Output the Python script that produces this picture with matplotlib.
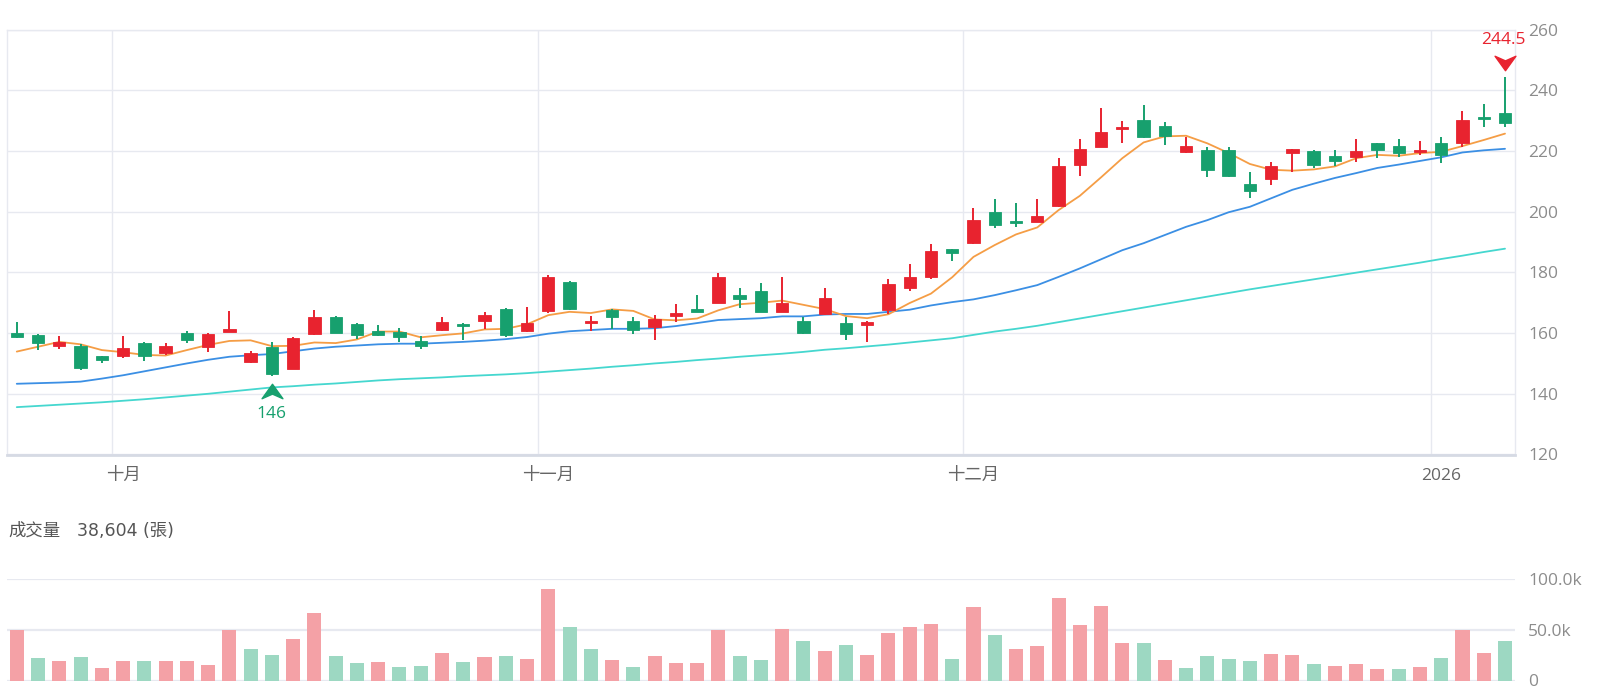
import matplotlib
matplotlib.use("Agg")
import matplotlib.pyplot as plt
import numpy as np
from matplotlib.path import Path
from matplotlib.transforms import offset_copy

plt.rcParams['font.family'] = ['Open Sans', 'Noto Sans CJK TC', 'DejaVu Sans']

# ---------------- data ----------------
opens = [159.9, 159.3, 155.8, 155.7, 152.4, 152.4, 156.8, 153.6, 159.9, 155.5,
         160.4, 150.5, 155.5, 148.2, 159.6, 165.4, 163.0, 160.8, 160.4, 157.4,
         161.0, 163.0, 164.0, 167.9, 160.8, 167.3, 176.9, 163.2, 167.6, 164.0,
         162.1, 165.6, 167.9, 170.0, 172.6, 173.9, 167.0, 164.0, 166.3, 163.4,
         162.6, 167.6, 174.7, 178.4, 187.6, 189.6, 200.0, 196.9, 196.7, 201.8,
         215.4, 221.4, 227.2, 230.2, 228.2, 219.5, 220.3, 220.3, 209.0, 210.6,
         219.2, 220.1, 218.4, 218.1, 222.5, 221.6, 219.6, 222.5, 222.7, 231.1,
         232.6]
highs = [163.5, 159.6, 159.0, 156.3, 152.6, 159.1, 157.0, 156.6, 160.7, 160.1,
         167.3, 154.1, 157.0, 158.8, 167.6, 165.6, 163.2, 162.6, 161.7, 159.0,
         165.2, 163.2, 166.8, 168.4, 168.5, 179.1, 177.2, 165.6, 167.8, 165.4,
         165.9, 169.6, 172.5, 179.7, 175.0, 176.6, 178.6, 165.4, 174.7, 165.4,
         163.9, 177.7, 182.8, 189.3, 187.8, 201.1, 204.1, 202.7, 204.1, 217.8,
         223.9, 234.0, 230.0, 235.1, 229.5, 224.5, 221.2, 221.2, 213.0, 216.4,
         220.7, 220.3, 220.3, 223.9, 222.7, 223.8, 223.4, 224.6, 233.1, 235.5,
         244.5]
lows = [158.4, 154.4, 154.7, 147.8, 150.2, 151.7, 150.8, 152.8, 156.8, 153.9,
        160.4, 150.2, 146.0, 148.0, 159.4, 159.9, 158.0, 159.0, 157.0, 154.6,
        160.6, 157.7, 161.5, 158.6, 160.2, 166.7, 167.6, 160.8, 161.3, 159.7,
        157.7, 163.5, 166.9, 169.8, 168.3, 166.8, 166.8, 159.7, 165.9, 157.7,
        157.1, 166.3, 173.8, 177.8, 183.8, 189.4, 194.5, 195.0, 196.5, 201.5,
        211.8, 221.2, 222.6, 224.2, 221.9, 219.2, 211.3, 211.3, 204.4, 208.8,
        213.1, 214.3, 214.9, 216.4, 217.7, 218.0, 218.7, 216.0, 221.2, 228.0,
        228.0]
closes = [158.6, 156.6, 157.1, 148.6, 151.1, 155.0, 152.4, 155.8, 157.7, 159.8,
          161.2, 153.3, 146.5, 158.3, 165.4, 160.1, 159.3, 159.5, 158.6, 155.7,
          163.5, 162.3, 166.0, 159.3, 163.4, 178.6, 167.9, 163.9, 165.2, 161.0,
          164.5, 166.5, 167.0, 178.6, 171.1, 167.0, 169.8, 160.0, 171.4, 159.6,
          163.7, 176.1, 178.6, 187.1, 186.3, 197.2, 195.6, 196.1, 198.6, 215.0,
          220.5, 226.1, 227.8, 224.5, 224.9, 221.6, 213.7, 211.7, 206.8, 215.0,
          220.5, 215.4, 216.8, 220.0, 220.4, 219.2, 220.2, 218.7, 230.2, 230.4,
          229.1]
prev_close = 157.8

volumes_k = [49.4, 22.4, 18.8, 22.7, 12.3, 19.5, 19.5, 18.8, 19.2, 15.6,
             49.4, 31.5, 24.7, 41.2, 66.9, 24.0, 16.9, 18.2, 13.6, 14.3,
             27.3, 17.9, 22.7, 24.0, 20.8, 90.6, 53.2, 31.5, 20.5, 13.6,
             23.7, 17.5, 16.9, 49.4, 23.7, 19.8, 50.6, 39.0, 29.2, 34.7,
             25.3, 46.4, 52.3, 55.5, 21.1, 72.1, 44.5, 31.2, 34.4, 81.2,
             54.2, 73.4, 37.3, 36.7, 19.8, 12.3, 24.0, 21.1, 18.8, 26.6,
             25.6, 15.9, 14.0, 16.6, 11.4, 11.4, 13.3, 21.8, 49.4, 26.9,
             38.6]

ma5 = [153.9, 155.5, 157.1, 156.3, 154.4, 153.7, 152.8, 152.6, 154.4, 156.1,
       157.4, 157.6, 155.7, 155.8, 156.9, 156.7, 157.9, 160.5, 160.5, 158.6,
       159.3, 159.9, 161.2, 161.4, 162.9, 165.9, 167.0, 166.6, 167.8, 167.3,
       164.5, 164.2, 164.8, 167.5, 169.5, 170.0, 170.7, 169.3, 167.9, 165.6,
       164.9, 166.2, 169.9, 173.0, 178.4, 185.1, 189.0, 192.5, 194.8, 200.5,
       205.2, 211.3, 217.6, 222.8, 224.8, 225.0, 222.5, 219.3, 215.7, 213.8,
       213.5, 213.9, 214.9, 217.6, 218.7, 218.4, 219.3, 219.7, 221.6, 223.6,
       225.7]
ma20 = [143.3, 143.5, 143.7, 144.0, 145.0, 146.1, 147.4, 148.7, 150.0, 151.2,
        152.2, 152.7, 153.1, 154.0, 154.9, 155.5, 155.9, 156.3, 156.5, 156.5,
        156.8, 157.1, 157.5, 158.0, 158.7, 159.8, 160.6, 161.0, 161.4, 161.4,
        161.6, 162.3, 163.3, 164.3, 164.6, 164.9, 165.5, 165.5, 166.1, 166.3,
        166.3, 167.0, 167.7, 169.1, 170.2, 171.1, 172.5, 174.1, 175.8, 178.5,
        181.3, 184.3, 187.3, 189.6, 192.3, 195.0, 197.2, 199.8, 201.6, 204.4,
        207.2, 209.2, 211.1, 212.7, 214.4, 215.5, 216.7, 217.9, 219.5, 220.2,
        220.7]
ma60 = [135.6, 136.0, 136.4, 136.8, 137.2, 137.7, 138.2, 138.8, 139.4, 140.0,
        140.7, 141.4, 142.1, 142.5, 143.0, 143.4, 143.9, 144.4, 144.8, 145.1,
        145.4, 145.8, 146.1, 146.4, 146.8, 147.3, 147.8, 148.3, 148.9, 149.4,
        150.0, 150.5, 151.1, 151.6, 152.2, 152.7, 153.2, 153.8, 154.5, 155.0,
        155.6, 156.2, 156.9, 157.6, 158.3, 159.4, 160.5, 161.4, 162.4, 163.6,
        164.8, 166.0, 167.2, 168.4, 169.6, 170.8, 172.0, 173.2, 174.4, 175.5,
        176.6, 177.7, 178.8, 179.9, 181.0, 182.1, 183.2, 184.4, 185.5, 186.7,
        187.8]

month_first_idx = [5, 25, 45, 67]          # first trading day of each month
month_labels = ['十月', '十一月', '十二月', '2026']
price_ticks = [120, 140, 160, 180, 200, 220, 240, 260]
vol_ticks = [0, 50000, 100000]
vol_tick_labels = ['0', '50.0k', '100.0k']
vol_name = '成交量'
vol_value = '38,604 (張)'

# ---------------- style ----------------
UP = '#e8232f'
DN = '#17a06e'
VUP = '#f4a1a6'
VDN = '#9dd8c2'
GRID = '#e7e9f0'
TXT = '#8c8c8c'

W, H = 1600, 692
fig = plt.figure(figsize=(W / 100, H / 100), dpi=100)
ax = fig.add_axes([7 / W, 1 - 454.5 / H, 1508 / W, (454.5 - 29.5) / H])
axv = fig.add_axes([7 / W, 1 - 680.5 / H, 1508 / W, (680.5 - 579) / H])

o = np.array(opens); c = np.array(closes); hi = np.array(highs); lo = np.array(lows)
x = np.arange(len(c))
up = c >= o
col = np.where(up, UP, DN)

# wicks
ax.vlines(x, lo, hi, colors=col, linewidth=1.4, zorder=4)
# bodies
body_bot = np.minimum(o, c)
body_h = np.maximum(np.abs(c - o), 0.45)
ax.bar(x, body_h, bottom=body_bot, width=0.58, color=col, edgecolor=col,
       linewidth=0.6, zorder=5)

# moving averages
ax.plot(x, ma60, color='#45d7cf', lw=1.3, zorder=3, solid_capstyle='round')
ax.plot(x, ma20, color='#3b8fe4', lw=1.3, zorder=3, solid_capstyle='round')
ax.plot(x, ma5, color='#f59d45', lw=1.3, zorder=3, solid_capstyle='round')

ax.set_xlim(-0.46, 70.47)
ax.set_ylim(120, 260)
ax.set_yticks(price_ticks)
ax.yaxis.tick_right()
ax.tick_params(axis='y', length=0, pad=9.5, labelsize=12.5, labelcolor=TXT)
# month labels on the first candle of the month, grid lines at the boundary
ax.set_xticks(month_first_idx)
ax.set_xticklabels(month_labels)
ax.tick_params(axis='x', length=0, pad=9.5, labelsize=12.5, labelcolor='#666666')
ax.grid(True, axis='y', color=GRID, lw=1.0, zorder=0)
for m in month_first_idx:
    ax.axvline(m - 0.5, color=GRID, lw=1.0, zorder=0)
ax.set_axisbelow(True)
for s in ['left', 'top', 'right']:
    ax.spines[s].set_color(GRID)
    ax.spines[s].set_linewidth(1.0)
ax.spines['bottom'].set_color('#d6dae4')
ax.spines['bottom'].set_linewidth(2.0)

# extreme markers
i_lo = int(np.argmin(lo))
i_hi = int(np.argmax(hi))
up_arrow = Path([(0, 0.5), (0.72, -0.5), (0, -0.18), (-0.72, -0.5), (0, 0.5)],
                [Path.MOVETO, Path.LINETO, Path.LINETO, Path.LINETO, Path.CLOSEPOLY])
dn_arrow = Path([(0, -0.5), (0.72, 0.5), (0, 0.18), (-0.72, 0.5), (0, -0.5)],
                [Path.MOVETO, Path.LINETO, Path.LINETO, Path.LINETO, Path.CLOSEPOLY])
tr_lo = offset_copy(ax.transData, fig=fig, x=0, y=-15, units='dots')
ax.plot([x[i_lo]], [lo[i_lo]], marker=up_arrow, markersize=15, color=DN,
        transform=tr_lo, clip_on=False, zorder=6)
ax.annotate(f'{lo[i_lo]:g}', xy=(x[i_lo], lo[i_lo]), xytext=(0, -38),
            textcoords='offset pixels', ha='center', va='center',
            fontsize=12.5, color=DN, annotation_clip=False)
tr_hi = offset_copy(ax.transData, fig=fig, x=0, y=13.5, units='dots')
ax.plot([x[i_hi]], [hi[i_hi]], marker=dn_arrow, markersize=15, color=UP,
        transform=tr_hi, clip_on=False, zorder=6)
ax.annotate(f'{hi[i_hi]:g}', xy=(x[i_hi], hi[i_hi]), xytext=(-2, 37),
            textcoords='offset pixels', ha='center', va='center',
            fontsize=12.5, color=UP, annotation_clip=False)

# volume
vol = np.array(volumes_k) * 1000
prev = np.concatenate([[prev_close], c[:-1]])
vcol = np.where(c >= prev, VUP, VDN)
axv.bar(x, vol, width=0.66, color=vcol, zorder=3)
axv.set_xlim(-0.46, 70.47)
axv.set_ylim(0, 100000)
axv.set_yticks(vol_ticks)
axv.set_yticklabels(vol_tick_labels)
axv.yaxis.tick_right()
axv.tick_params(axis='y', length=0, pad=9.5, labelsize=12.5, labelcolor=TXT)
axv.set_xticks([])
axv.grid(True, axis='y', color=GRID, lw=1.6, zorder=0)
for s in axv.spines.values():
    s.set_visible(False)

fig.text(8 / W, 1 - 531 / H, vol_name, fontsize=12.5, color='#555555',
         ha='left', va='center')
fig.text(77 / W, 1 - 531 / H, vol_value, fontsize=12.5, color='#555555',
         ha='left', va='center', family=['DejaVu Sans', 'Noto Sans CJK TC'])

fig.savefig('out.png', dpi=100)
